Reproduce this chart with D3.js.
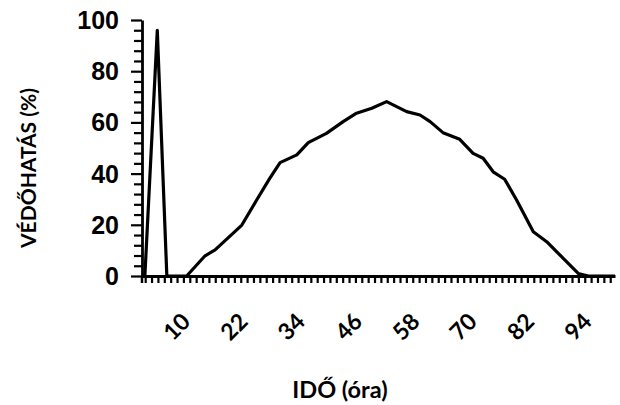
<!DOCTYPE html>
<html><head><meta charset="utf-8">
<script src="https://cdn.jsdelivr.net/npm/d3@7"></script>
<style>body{margin:0;background:#fff}</style>
</head><body>
<svg id="c" width="620" height="405"></svg>
<script>
// time points (hours) and protective effect (%)
const hours =      [0.6, 3.2, 5.2, 9.35, 13.2, 15.3, 20.9, 24.0, 26.8, 28.9, 32.4, 34.8, 38.6, 42.1, 44.9, 48.1, 51.2, 55.4, 58.2, 60.3, 63.0, 66.5, 69.3, 71.4, 73.5, 75.9, 78.4, 81.9, 84.7, 91.3, 93.4, 99];
const protection = [0,   96,  0,   0,    7.9,  10.2, 19.9, 29.7, 38.3, 44.3, 47.3, 52.1, 55.7, 60.3, 63.6, 65.5, 68.1, 64.2, 62.9, 60.3, 56.0, 53.4, 47.9, 46.0, 40.7, 37.8, 29.7, 17.3, 13.4, 1.0,  0,    0];
const xTickLabels = [10, 22, 34, 46, 58, 70, 82, 94];
const yTickLabels = [0, 20, 40, 60, 80, 100];
const xTitle = "IDŐ (óra)";
const yTitle = "VÉDŐHATÁS (%)";

const svg = d3.select("#c");
const x = d3.scaleLinear().domain([0, 99]).range([142, 615]);
const y = d3.scaleLinear().domain([0, 100]).range([276, 20]);

const yMinor = d3.range(0, 101, 4);
const xMinor = d3.range(2/3, 99, 4/3);

// y axis (library axis, minor ticks every 4 %, longer at labelled values)
const yAxis = d3.axisLeft(y).tickValues(yMinor).tickFormat(() => "").tickSizeOuter(0).tickSizeInner(8);
const gy = svg.append("g").attr("transform", `translate(${x(0)},0)`).call(yAxis);
gy.select(".domain").attr("stroke", "#000").attr("stroke-width", 2.8);
gy.selectAll(".tick line").attr("stroke", "#000").attr("stroke-width", 2.2)
  .attr("x2", d => yTickLabels.includes(d) ? -11 : -8);

// x axis (library axis, ticks every 4/3 h)
const xAxis = d3.axisBottom(x).tickValues(xMinor).tickFormat(() => "").tickSizeOuter(0).tickSizeInner(7);
const gx = svg.append("g").attr("transform", `translate(0,${y(0)})`).call(xAxis);
gx.select(".domain").attr("stroke", "#000").attr("stroke-width", 2.8);
gx.selectAll(".tick line").attr("stroke", "#000").attr("stroke-width", 2.2);

// small extension of the y axis below the x axis
svg.append("path").datum([[x(0), y(0)], [x(0), y(0) + 7]]).attr("d", d3.line())
  .attr("fill", "none").attr("stroke", "#000").attr("stroke-width", 2.5);

// tick labels
svg.append("g").selectAll("text").data(yTickLabels).join("text")
  .attr("x", 119).attr("y", d => y(d)).attr("dy", "0.36em")
  .attr("text-anchor", "end")
  .attr("font-family", "Liberation Sans, Arial, sans-serif")
  .attr("font-weight", "bold").attr("font-size", 25)
  .text(d => d);

svg.append("g").selectAll("text").data(xTickLabels).join("text")
  .attr("transform", d => `translate(${x(d) + 2},${y(0) + 47}) rotate(-45)`)
  .attr("text-anchor", "end")
  .attr("font-family", "Lato, sans-serif")
  .attr("font-weight", "bold").attr("font-size", 23)
  .text(d => d);

// titles
svg.append("text").attr("x", 340).attr("y", 398).attr("text-anchor", "middle")
  .attr("font-family", "Lato, sans-serif").attr("font-weight", "bold").attr("font-size", 23.5)
  .text(xTitle);
svg.append("text").attr("transform", "translate(36,168) rotate(-90)").attr("text-anchor", "middle")
  .attr("font-family", "Lato, sans-serif").attr("font-weight", "bold").attr("font-size", 21)
  .text(yTitle);

// data line
const line = d3.line().x((d, i) => x(hours[i])).y(d => y(d));
svg.append("path").datum(protection).attr("d", line)
  .attr("fill", "none").attr("stroke", "#000").attr("stroke-width", 3.2)
  .attr("stroke-linejoin", "round");
</script>
</body></html>
